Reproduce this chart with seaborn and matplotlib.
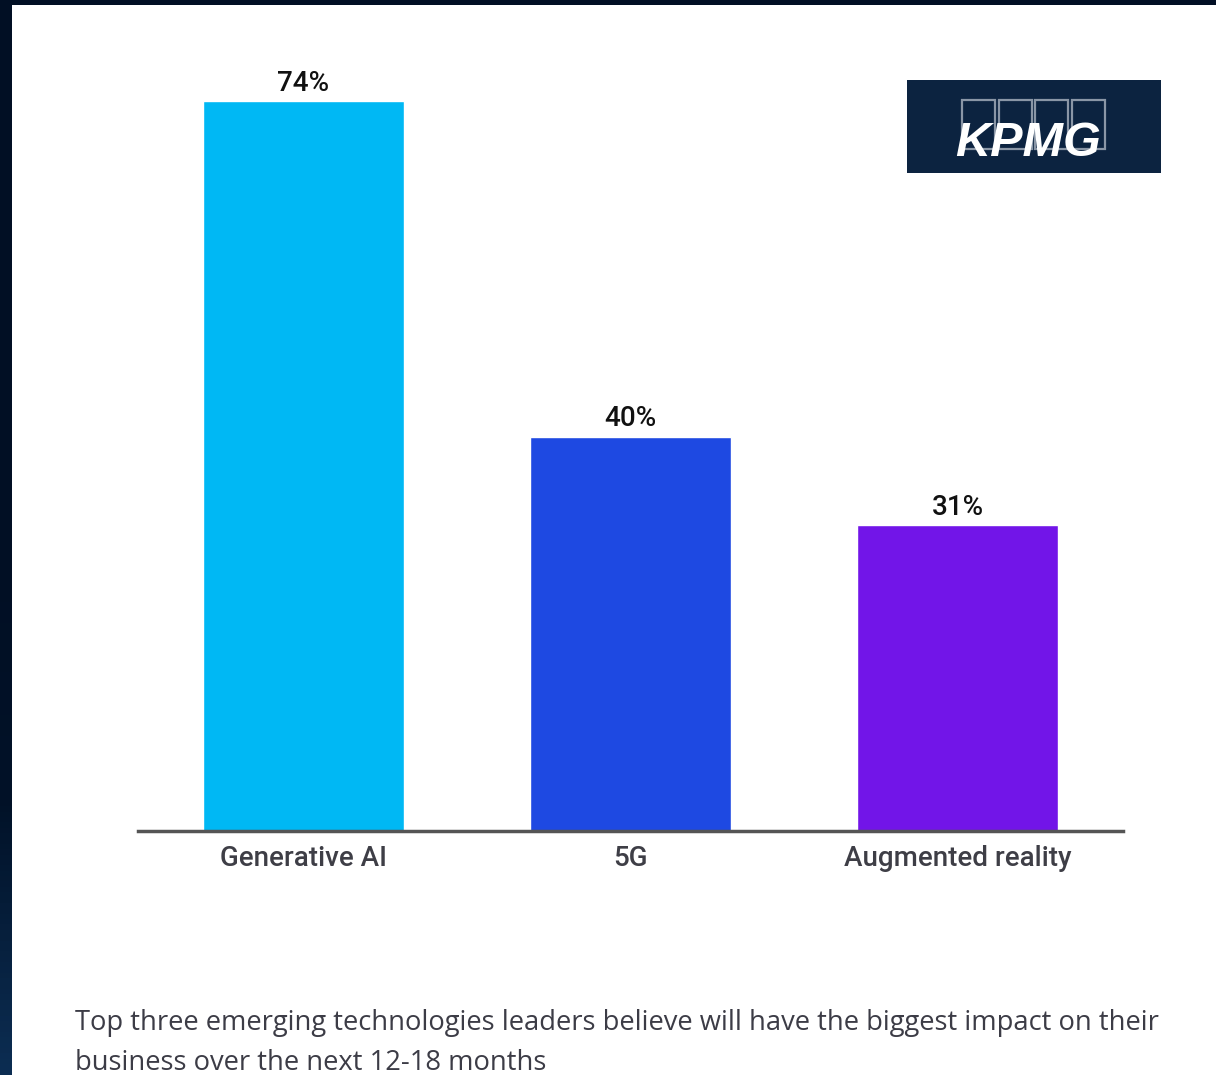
import numpy as np
import pandas as pd
import matplotlib.pyplot as plt
import seaborn as sns
from matplotlib.patches import Rectangle

# data
technologies = ['Generative AI', '5G', 'Augmented reality']
shares = [74, 40, 31]
bar_colors = ['#00B8F4', '#1E49E2', '#7215E8']
caption = ('Top three emerging technologies leaders believe will have the biggest impact on their\n'
           'business over the next 12-18 months')

df = pd.DataFrame({'tech': technologies, 'share': shares})

sns.set_theme(style='white')
plt.rcParams['font.family'] = ['Roboto', 'DejaVu Sans']

fig = plt.figure(figsize=(12.16, 10.75), dpi=100)
fig.patch.set_facecolor('#010F24')

# white page behind the chart, dark frame on left and top
bg = fig.add_axes([0, 0, 1, 1])
bg.axis('off')
grad = np.linspace(0, 1, 200).reshape(-1, 1)
edge_cmap = sns.blend_palette(['#010F24', '#010F24', '#010F24', '#011228', '#0C2D52'],
                              as_cmap=True)
bg.imshow(grad, extent=[0, 12, 1075, 0], aspect='auto', cmap=edge_cmap,
          vmin=0, vmax=1, origin='upper')
bg.set_xlim(0, 1216)
bg.set_ylim(1075, 0)
bg.add_patch(Rectangle((12, 5), 1204, 1070, facecolor='white', edgecolor='none'))
bg.add_patch(Rectangle((0, 0), 1216, 5, facecolor='#010F24', edgecolor='none'))

# KPMG logo
bg.add_patch(Rectangle((907, 80), 254, 93, facecolor='#0C2340', edgecolor='none'))
for i in range(4):
    bg.add_patch(Rectangle((962 + i * 36.5, 100), 33, 49, facecolor='none',
                           edgecolor='#8A96A6', linewidth=1.6))
bg.text(1028, 144, 'KPMG', color='white', fontsize=35, fontweight='bold', style='italic',
        ha='center', va='center', family=['Liberation Sans', 'DejaVu Sans'])

# caption
bg.text(75, 1043, caption, fontsize=19.7, color='#3C3C46', ha='left', va='center',
        family=['Open Sans', 'DejaVu Sans'], linespacing=1.56)

ax = fig.add_axes([138 / 1216, (1075 - 831) / 1075, (1123 - 138) / 1216, 789 / 1075])
ax.patch.set_alpha(0)
sns.barplot(data=df, x='tech', y='share', hue='tech', palette=bar_colors,
            width=0.615, legend=False, saturation=1, ax=ax)
ax.set_xlim(-0.506, 2.506)
ax.set_ylim(0, 80)
for c in ax.containers:
    ax.bar_label(c, labels=[f'{v:.0f}%' for v in c.datavalues], padding=3,
                 fontsize=20, fontweight='medium', color='#111111')
ax.set_xlabel('')
ax.set_ylabel('')
ax.set_yticks([])
ax.tick_params(axis='x', length=0, pad=10, labelsize=20, labelcolor='#3E3E46')
for lab in ax.get_xticklabels():
    lab.set_fontweight('medium')
for s in ['top', 'left', 'right']:
    ax.spines[s].set_visible(False)
ax.spines['bottom'].set_color('#555555')
ax.spines['bottom'].set_linewidth(2.5)

fig.savefig('out.png', dpi=100, facecolor=fig.get_facecolor())
